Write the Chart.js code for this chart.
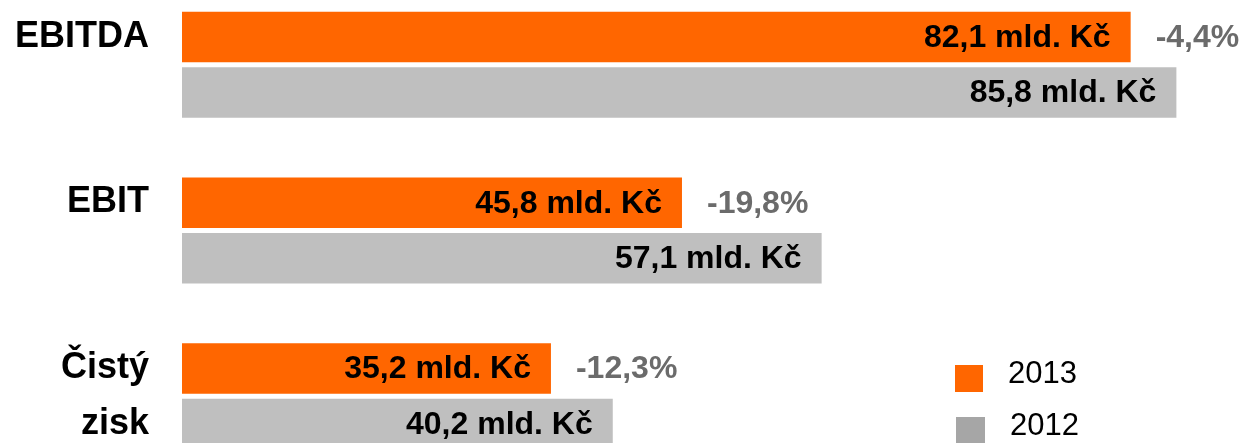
<!DOCTYPE html>
<html>
<head>
<meta charset="utf-8">
<script src="https://cdn.jsdelivr.net/npm/chart.js@4"></script>
<style>
body { margin: 0; background: #fff; }
#wrap { position: relative; width: 1244px; height: 443px; overflow: hidden; }
#box { position: absolute; left: 0; top: -18px; width: 1244px; height: 497px; }
</style>
</head>
<body>
<div id="wrap"><div id="box"><canvas id="myChart"></canvas></div></div>
<script>
const categories = [['EBITDA', ''], ['EBIT', ''], ['Čistý', 'zisk']];
const values2013 = [82.1, 45.8, 35.2];
const values2012 = [85.8, 57.1, 40.2];
const changes = ['-4,4%', '-19,8%', '-12,3%'];
const seriesNames = ['2013', '2012'];
const barColors = ['#ff6600', '#bfbfbf'];
const legendColors = ['#ff6600', '#a6a6a6'];

Chart.defaults.font.family = '"Liberation Sans", Arial, sans-serif';

function fmt(v) {
    return v.toFixed(1).replace('.', ',') + ' mld. Kč';
}

// value labels inside bars, change % after the 2013 bars, and the legend
const labelsPlugin = {
    id: 'labels',
    afterDatasetsDraw(chart) {
        const c = chart.ctx;
        c.save();
        c.font = 'bold 32px "Liberation Sans", Arial, sans-serif';
        c.textBaseline = 'middle';
        chart.data.datasets.forEach((ds, i) => {
            chart.getDatasetMeta(i).data.forEach((bar, j) => {
                c.fillStyle = '#000';
                c.textAlign = 'right';
                c.fillText(fmt(ds.data[j]), bar.x - 20, bar.y + 1);
                if (i === 0) {
                    c.fillStyle = '#6b6b6b';
                    c.textAlign = 'left';
                    c.fillText(changes[j], bar.x + 25, bar.y + 1);
                }
            });
        });

        // legend
        c.font = '31px "Liberation Sans", Arial, sans-serif';
        c.textAlign = 'left';
        const items = [
            { box: [955, 383, 28, 27], tx: 1008, ty: 392 },
            { box: [956, 435, 29, 27], tx: 1010, ty: 444 }
        ];
        items.forEach((it, i) => {
            c.fillStyle = legendColors[i];
            c.fillRect(...it.box);
            c.fillStyle = '#000';
            c.fillText(seriesNames[i], it.tx, it.ty);
        });
        c.restore();
    }
};

const ctx = document.getElementById('myChart').getContext('2d');

const myChart = new Chart(ctx, {
    type: 'bar',
    data: {
        labels: categories,
        datasets: [{
            label: seriesNames[0],
            data: values2013,
            backgroundColor: barColors[0],
            barPercentage: 0.91,
            categoryPercentage: 0.67
        }, {
            label: seriesNames[1],
            data: values2012,
            backgroundColor: barColors[1],
            barPercentage: 0.91,
            categoryPercentage: 0.67
        }]
    },
    options: {
        indexAxis: 'y',
        responsive: true,
        maintainAspectRatio: false,
        animation: false,
        layout: { padding: 0 },
        plugins: {
            legend: { display: false },
            tooltip: { enabled: false }
        },
        scales: {
            x: {
                display: false,
                min: 5.35,
                max: 91.27
            },
            y: {
                grid: { display: false, drawTicks: false },
                border: { display: false },
                ticks: {
                    color: '#000',
                    padding: 33,
                    font: { size: 36, weight: 'bold', lineHeight: 1.56 }
                },
                afterFit(scale) {
                    scale.width = 182;
                    scale.paddingTop = 0;
                    scale.paddingBottom = 0;
                }
            }
        }
    },
    plugins: [labelsPlugin]
});
</script>
</body>
</html>
